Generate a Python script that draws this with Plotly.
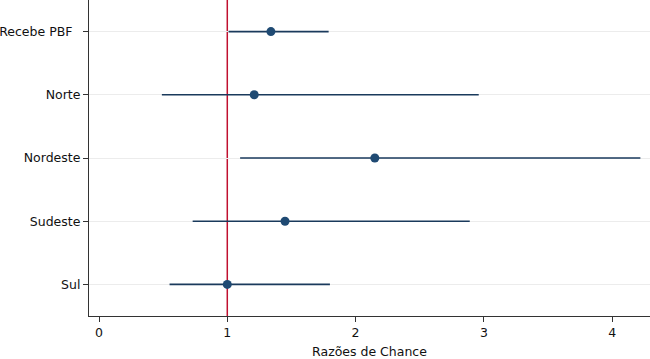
import plotly.graph_objects as go

categories = ["Recebe PBF", "Norte", "Nordeste", "Sudeste", "Sul"]
odds_ratio = [1.34, 1.21, 2.15, 1.45, 1.00]
ci_low = [1.01, 0.49, 1.10, 0.73, 0.55]
ci_high = [1.79, 2.96, 4.22, 2.89, 1.80]
x_ticks = [0, 1, 2, 3, 4]
ref_value = 1

tick_text = ["Recebe PBF\u00a0\u00a0", "Norte", "Nordeste", "Sudeste", "Sul"]

navy = "#1a3a5c"

fig = go.Figure()
fig.add_trace(go.Scatter(
    x=odds_ratio, y=categories, mode="markers",
    marker=dict(color="#1f4a73", size=9),
    error_x=dict(type="data", symmetric=False,
                 array=[h - o for h, o in zip(ci_high, odds_ratio)],
                 arrayminus=[o - l for o, l in zip(odds_ratio, ci_low)],
                 color=navy, thickness=1.6, width=0),
    showlegend=False, hoverinfo="skip",
))
fig.add_shape(type="line", x0=ref_value, x1=ref_value, y0=0, y1=1,
              xref="x", yref="paper", layer="below",
              line=dict(color="#c0102f", width=1.5))

fig.update_layout(
    width=650, height=359,
    margin=dict(l=89, r=0, t=0, b=43),
    paper_bgcolor="white", plot_bgcolor="white",
    font=dict(family="DejaVu Sans", size=12.5, color="#111111"),
    xaxis=dict(range=[-0.078, 4.295], tickvals=x_ticks, ticks="outside",
               ticklen=5, tickcolor="#333333", showgrid=False, zeroline=False,
               showline=True, linecolor="#333333", linewidth=1.2,
               title=dict(text="Razões de Chance", standoff=9,
                          font=dict(size=12.5))),
    yaxis=dict(categoryorder="array", categoryarray=categories,
               tickvals=categories, ticktext=tick_text,
               range=[4.5, -0.5], ticks="outside", ticklen=5,
               tickcolor="#333333", showgrid=True, gridcolor="#ececec",
               gridwidth=1, zeroline=False, showline=True,
               linecolor="#333333", linewidth=1.2),
)

fig.write_html("out.html", config={"displayModeBar": False},
               post_script="document.body.style.margin='0';document.body.style.overflow='hidden';")
